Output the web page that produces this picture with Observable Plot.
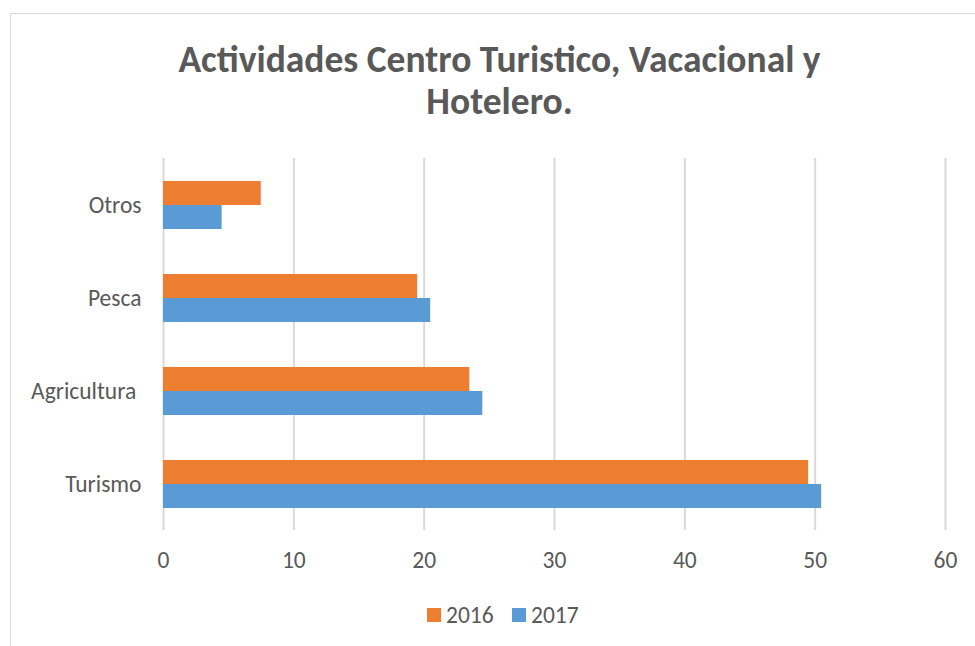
<!DOCTYPE html>
<html>
<head>
<meta charset="utf-8">
<script src="https://cdn.jsdelivr.net/npm/d3@7"></script>
<script src="https://cdn.jsdelivr.net/npm/@observablehq/plot@0.6"></script>
<style>
  html, body { margin: 0; padding: 0; background: #fff; overflow: hidden; }
  #wrap { position: relative; width: 975px; height: 646px; overflow: hidden; font-family: Carlito, Lato, sans-serif; }
  #border { position: absolute; left: 10px; top: 13px; width: 1000px; height: 700px; border: 1.5px solid #d9d9d9; box-sizing: border-box; }
  #title { position: absolute; left: 10px; width: 979px; top: 38px; text-align: center; font-weight: bold; font-size: 37.5px; line-height: 42px; color: #595959; }
  #chart { position: absolute; left: 0; top: 0; }
  #legend { position: absolute; top: 601px; left: 0; width: 975px; font-size: 23.5px; color: #595959; }
  .item { position: absolute; display: flex; align-items: center; }
  .sw { width: 14px; height: 14px; margin-right: 5px; }
</style>
</head>
<body>
<div id="wrap">
  <div id="border"></div>
  <div id="chart"></div>
  <div id="title">Actividades Centro Turistico, Vacacional y<br>Hotelero.</div>
  <div id="legend"></div>
</div>
<script>
const categories = ["Otros", "Pesca", "Agricultura", "Turismo"];
const years = ["2016", "2017"];
const values2016 = [7.5, 19.5, 23.5, 49.5];
const values2017 = [4.5, 20.5, 24.5, 50.5];
const xTicks = [0, 10, 20, 30, 40, 50, 60];
const colors = ["#ED7D31", "#5B9BD5"];

const data = [];
categories.forEach((c, i) => {
  data.push({category: c, year: years[0], value: values2016[i]});
  data.push({category: c, year: years[1], value: values2017[i]});
});

const chart = Plot.plot({
  width: 975,
  height: 646,
  marginTop: 158,
  marginBottom: 116,
  marginLeft: 163,
  marginRight: 30,
  style: {fontFamily: "Carlito, Lato, sans-serif", fontSize: "23.5px", color: "#595959", background: "transparent"},
  x: {domain: [0, 60], ticks: xTicks, tickSize: 0, tickPadding: 21, label: null},
  y: {domain: years, paddingInner: 0, paddingOuter: 0.911, axis: null},
  fy: {domain: categories, padding: 0, label: null, tickSize: 0, tickPadding: 22,
       tickFormat: d => d === "Agricultura" ? d + "\u00a0" : d},
  color: {domain: years, range: colors},
  marks: [
    Plot.ruleX(xTicks, {stroke: "#d9d9d9", strokeWidth: 2}),
    Plot.barX(data, {x: "value", y: "year", fy: "category", fill: "year"})
  ]
});
document.getElementById("chart").appendChild(chart);

const legend = document.getElementById("legend");
const legendX = [427, 512];
years.forEach((y, i) => {
  const it = document.createElement("div");
  it.className = "item";
  it.style.left = legendX[i] + "px";
  const sw = document.createElement("div");
  sw.className = "sw";
  sw.style.background = colors[i];
  const t = document.createElement("span");
  t.textContent = y;
  it.appendChild(sw);
  it.appendChild(t);
  legend.appendChild(it);
});
</script>
</body>
</html>
